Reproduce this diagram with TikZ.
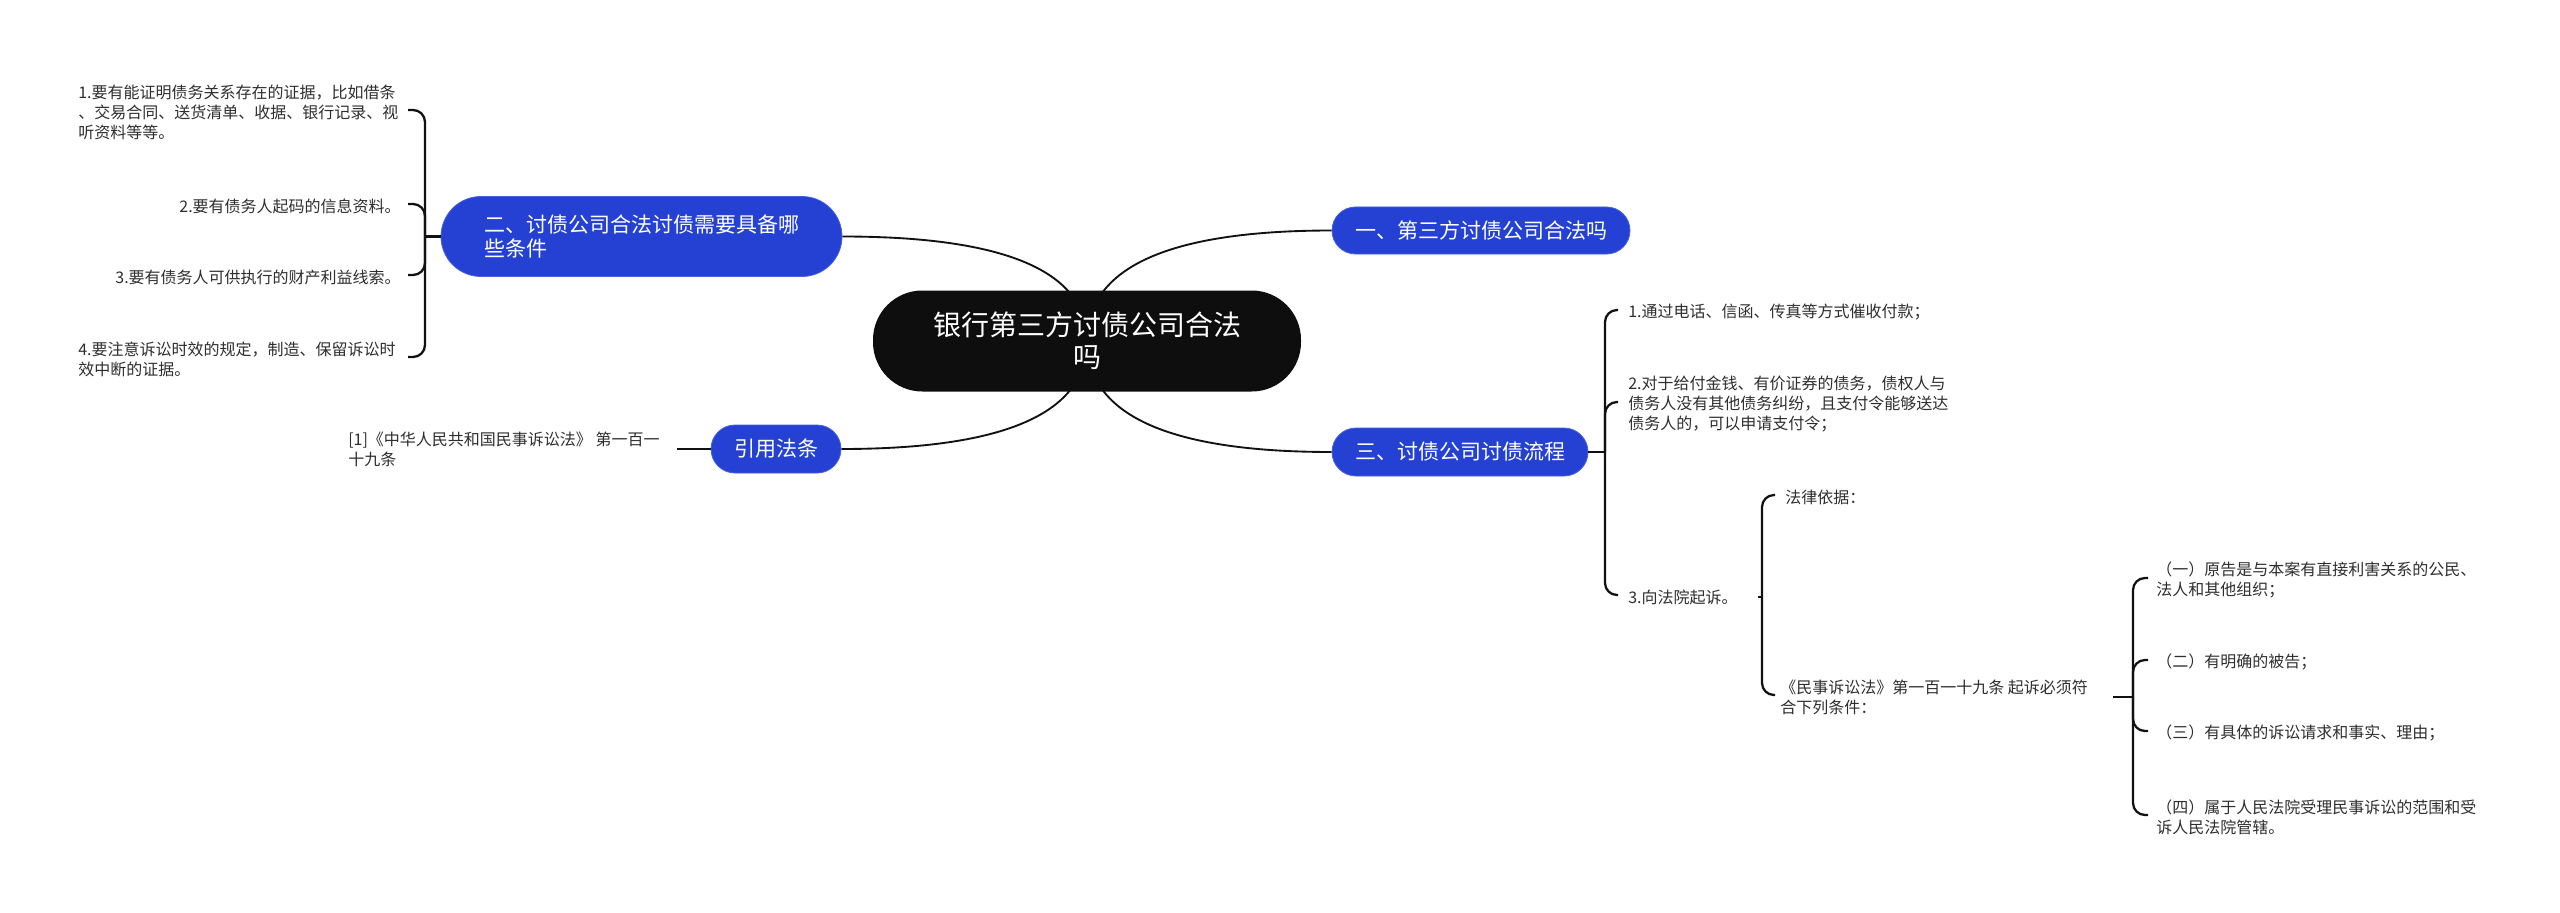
\documentclass[tikz,border=0pt]{standalone}
\usepackage{fontspec}
\setmainfont{Noto Sans CJK SC}
\usetikzlibrary{calc,backgrounds}
\definecolor{nodeblue}{HTML}{2541D4}
\definecolor{nodeedge}{HTML}{4560E0}
\definecolor{rootblack}{HTML}{0E0E0E}
\definecolor{leaftext}{HTML}{2E2E2E}
\definecolor{linecol}{HTML}{111111}
\begin{document}
\begin{tikzpicture}[x=0.75pt,y=-0.75pt,
 rootnode/.style={fill=rootblack, text=white, rounded corners=37pt, minimum width=321pt, minimum height=75.75pt, inner sep=0pt, align=center, font=\fontsize{21}{24}\selectfont},
 bluenode/.style={fill=nodeblue, draw=nodeedge, line width=0.6pt, text=white, inner sep=0pt, font=\fontsize{15.75}{18}\selectfont},
 leaf/.style={text=leaftext, inner sep=0pt, align=left, font=\fontsize{12}{15}\selectfont},
 curve/.style={draw=linecol, line width=1.4pt},
 brk/.style={draw=linecol, line width=1.7pt, rounded corners=9pt},
]
\useasboundingbox (0,0) rectangle (2560,913);

% main nodes
\node[rootnode] (root) at (1087,341) {银行第三方讨债公司合法\\吗};
\node[bluenode, minimum width=223.5pt, minimum height=35.25pt, rounded corners=17.6pt] (b1) at (1481,230.5) {一、第三方讨债公司合法吗};
\node[bluenode, minimum width=192pt, minimum height=36pt, rounded corners=18pt] (b3) at (1460,452) {三、讨债公司讨债流程};
\node[bluenode, minimum width=300.75pt, minimum height=60pt, rounded corners=30pt, align=left] (b2) at (641.5,236.5) {二、讨债公司合法讨债需要具备哪\\些条件};
\node[bluenode, minimum width=97.5pt, minimum height=36pt, rounded corners=18pt] (b4) at (776,449) {引用法条};

% leaves
\node[leaf, anchor=west] (L1) at (78,112) {1.要有能证明债务关系存在的证据，比如借条\\、交易合同、送货清单、收据、银行记录、视\\听资料等等。};
\node[leaf, anchor=east] (L2) at (401,206) {2.要有债务人起码的信息资料。};
\node[leaf, anchor=east] (L3) at (401,277) {3.要有债务人可供执行的财产利益线索。};
\node[leaf, anchor=west] (L4) at (78,359) {4.要注意诉讼时效的规定，制造、保留诉讼时\\效中断的证据。};
\node[leaf, anchor=west] (ref) at (348,449) {[1]《中华人民共和国民事诉讼法》 第一百一\\十九条};
\node[leaf, anchor=west] (R1) at (1628,312) {1.通过电话、信函、传真等方式催收付款；};
\node[leaf, anchor=west] (R2) at (1628,404) {2.对于给付金钱、有价证券的债务，债权人与\\债务人没有其他债务纠纷，且支付令能够送达\\债务人的，可以申请支付令；};
\node[leaf, anchor=west] (R3) at (1628,597) {3.向法院起诉。};
\node[leaf, anchor=west] (S1) at (1785,497) {法律依据：};
\node[leaf, anchor=west] (S2) at (1780,697) {《民事诉讼法》第一百一十九条 起诉必须符\\合下列条件：};
\node[leaf, anchor=west] (T1) at (2156,580) {（一）原告是与本案有直接利害关系的公民、\\法人和其他组织；};
\node[leaf, anchor=west] (T2) at (2156,662) {（二）有明确的被告；};
\node[leaf, anchor=west] (T3) at (2156,733) {（三）有具体的诉讼请求和事实、理由；};
\node[leaf, anchor=west] (T4) at (2156,817) {（四）属于人民法院受理民事诉讼的范围和受\\诉人民法院管辖。};

% spines
\coordinate (sp2) at (425,236.5);
\coordinate (sp3) at (1605,452);
\coordinate (sp5) at (1762,597);
\coordinate (sp6) at (2133,697);

% brackets
\draw[brk] (b2.west) -- (sp2);
\foreach \n in {L1,L2,L3,L4} \draw[brk] (sp2) |- ($(sp2 |- \n.east)+(-17,-2)$);
\draw[brk] (b3.east) -- (sp3);
\foreach \n in {R1,R2,R3} \draw[brk] (sp3) |- ($(sp3 |- \n.west)+(13,-2)$);
\draw[brk] ($(R3.east)+(20,0)$) -- (sp5);
\foreach \n in {S1,S2} \draw[brk] (sp5) |- ($(sp5 |- \n.west)+(13,-2)$);
\draw[brk] ($(S2.east)+(25,0)$) -- (sp6);
\foreach \n in {T1,T2,T3,T4} \draw[brk] (sp6) |- ($(sp6 |- \n.west)+(15,-2)$);
\draw[brk] ($(ref.east)+(17,0)$) -- (b4.west);

% central curves
\begin{scope}[on background layer]
\fill[white] (0,0) rectangle (2560,913);
\foreach \b/\a in {b1/west, b3/west, b2/east, b4/east} {
  \draw[curve] (root.center) .. controls ($(root.center)!0.6667!(root.center |- \b.\a)$) and ($(\b.\a)!0.6667!(root.center |- \b.\a)$) .. (\b.\a);
}
\end{scope}
\end{tikzpicture}
\end{document}
